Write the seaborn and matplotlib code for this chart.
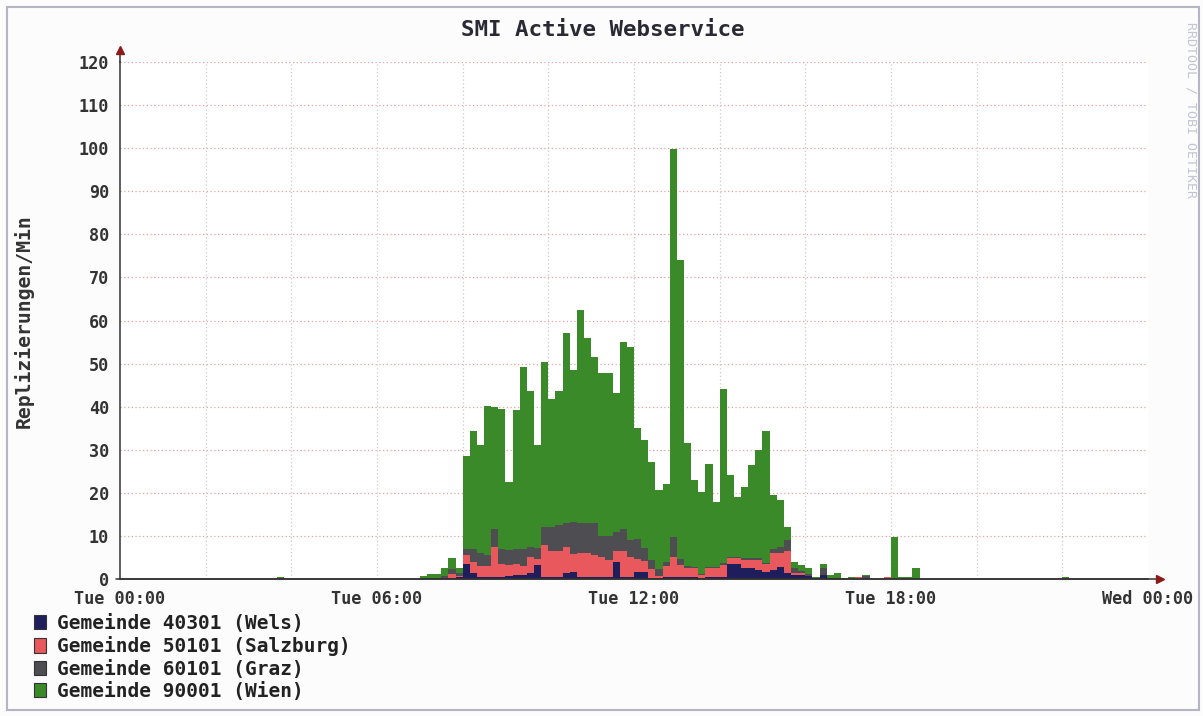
import numpy as np
import pandas as pd
import seaborn as sns
import matplotlib.pyplot as plt
from matplotlib.patches import Patch, Rectangle

# Replication counts per minute, 10-minute samples from Tue 07:00 to Tue 18:50
start_hour = 7.0
step_minutes = 10

wels = [0, 0, 0, 0, 0.3, 0.5,
        3.5, 1.5, 0.5, 0.5, 0.5, 0.5, 0.8, 1.0, 1.0, 1.5,
        3.2, 0.5, 0.5, 0.5, 1.5, 1.7, 0.5, 0.5, 0.5, 0.5,
        0.5, 4.0, 0.5, 0.5, 1.7, 1.7, 0.3, 0.3, 0.5, 0.5,
        0.5, 0.5, 0.5, 0.3, 0.5, 0.5, 0.5, 3.4, 3.4, 2.5,
        2.5, 2.0, 1.7, 2.0, 2.9, 1.5, 1.0, 1.0, 0.8, 0.3,
        1.0, 0.3, 0.2, 0, 0, 0, 0.3, 0, 0, 0,
        0, 0, 0, 0, 0, 0]

salzburg = [0, 0, 0, 0.3, 0.8, 0.2,
            2.0, 2.5, 2.5, 2.5, 7.0, 3.0, 2.5, 2.5, 2.0, 3.5,
            1.5, 7.5, 6.0, 6.0, 6.0, 4.0, 5.5, 5.5, 5.0, 4.5,
            4.0, 2.5, 6.0, 4.5, 3.0, 2.5, 2.0, 0.5, 2.5, 4.7,
            2.7, 2.0, 2.0, 0.7, 2.0, 2.0, 2.7, 1.4, 1.4, 2.0,
            2.0, 2.5, 1.7, 4.0, 3.1, 5.0, 0.5, 0.3, 0, 0,
            0, 0, 0, 0, 0.3, 0.5, 0, 0, 0, 0.5,
            0, 0, 0, 0, 0, 0]

graz = [0, 0, 0, 0.5, 1.2, 0.6,
        1.5, 3.0, 3.0, 2.5, 4.0, 3.5, 3.5, 3.5, 4.0, 2.5,
        2.5, 4.0, 5.5, 6.0, 5.5, 7.5, 7.0, 7.0, 7.5, 5.0,
        5.5, 4.5, 5.0, 4.0, 4.5, 3.0, 2.0, 1.5, 1.0, 4.6,
        1.5, 0.5, 0.3, 0.2, 0.3, 0.3, 0.5, 0.3, 0.3, 0.3,
        0.3, 0.3, 0.3, 1.0, 1.5, 2.5, 1.0, 0.5, 0.4, 0,
        1.5, 0, 0, 0, 0, 0, 0.5, 0, 0, 0,
        0, 0, 0, 0, 0, 0]

wien = [0.6, 1.1, 1.2, 1.7, 2.5, 1.3,
        21.6, 27.4, 25.2, 34.6, 28.5, 32.5, 15.6, 32.2, 42.1, 36.2,
        24.0, 38.4, 29.8, 31.2, 44.1, 35.3, 49.4, 43.0, 38.6, 37.9,
        37.7, 32.1, 43.4, 44.9, 25.9, 25.1, 22.9, 18.3, 18.0, 89.9,
        69.3, 28.5, 20.2, 19.1, 24.0, 15.1, 40.3, 19.0, 14.0, 16.5,
        21.7, 25.1, 30.6, 12.6, 10.8, 3.1, 1.5, 1.4, 1.3, 0.2,
        1.0, 0.7, 1.3, 0.3, 0.2, 0, 0.2, 0, 0, 0,
        9.8, 0.4, 0.4, 2.6, 0, 0]

# isolated samples outside the busy window (Wien only)
extra_hours = [3 + 40 / 60, 22.0]
extra_wien = [0.4, 0.4]

series_labels = ["Gemeinde 40301 (Wels)", "Gemeinde 50101 (Salzburg)",
                 "Gemeinde 60101 (Graz)", "Gemeinde 90001 (Wien)"]
series_colors = ["#1E1E5C", "#E8585C", "#4D4D52", "#3A8A2A"]
x_tick_hours = [0, 6, 12, 18, 24]
x_tick_labels = ["Tue 00:00", "Tue 06:00", "Tue 12:00", "Tue 18:00", "Wed 00:00"]
y_ticks = list(range(0, 121, 10))

# long-form table: one row per series and 10-minute bin (bin centre in hours)
rows = []
step_h = step_minutes / 60
for label, values in zip(series_labels, [wels, salzburg, graz, wien]):
    for i, v in enumerate(values):
        rows.append((start_hour + (i + 0.5) * step_h, label, v))
for h, v in zip(extra_hours, extra_wien):
    rows.append((h + 0.5 * step_h, series_labels[3], v))
df = pd.DataFrame(rows, columns=["hour", "series", "value"])

sns.set_theme(style="white")
mono = "DejaVu Sans Mono"
plt.rcParams["font.family"] = [mono, "DejaVu Sans"]

W, H = 1203, 716
fig = plt.figure(figsize=(W / 100, H / 100), dpi=100, facecolor="#FCFCFC")
ax = fig.add_axes([120 / W, 1 - 579 / H, (1148 - 120) / W, (579 - 62) / H])
ax.set_facecolor("#FFFFFF")

palette = dict(zip(series_labels, series_colors))
# seaborn stacks the last hue level at the bottom
hue_order = series_labels[::-1]
edges = [float(e) for e in np.linspace(0, 24, 24 * 6 + 1)]
sns.histplot(data=df, x="hour", weights="value", hue="series",
             hue_order=hue_order, palette=palette, multiple="stack",
             bins=edges, element="step", fill=True, linewidth=0, alpha=1,
             legend=False, ax=ax, zorder=2)

ax.set_xlim(0, 24)
ax.set_ylim(0, 120)
ax.set_xlabel("")
ax.set_ylabel("")
ax.set_xticks(x_tick_hours)
ax.set_xticklabels(x_tick_labels, fontweight="bold")
ax.set_yticks(y_ticks)
ax.set_yticklabels([str(t) for t in y_ticks], fontweight="bold")
ax.tick_params(axis="both", labelsize=12.2, colors="#333333", length=3,
               width=1, direction="out")
ax.tick_params(axis="x", pad=5)
ax.tick_params(axis="y", pad=5)

# dotted grid: red horizontal every 10, grey vertical every 2 hours
for y in y_ticks[1:]:
    ax.axhline(y, color="#E7A3A3", lw=0.9, ls=(0, (1, 2)), zorder=1)
for h in range(2, 24, 2):
    ax.axvline(h, color="#D0C6D0", lw=0.9, ls=(0, (1, 2)), zorder=1)

for side in ("top", "right"):
    ax.spines[side].set_visible(False)
for side in ("left", "bottom"):
    ax.spines[side].set_color("#333333")
    ax.spines[side].set_linewidth(1.1)
    ax.spines[side].set_zorder(3)

# axis arrows
ax.plot([0, 0], [1, 1.022], color="#333333", lw=1.1,
        transform=ax.transAxes, clip_on=False, zorder=3)
ax.plot([0], [1.024], marker="^", ms=6, color="#8B1A1A",
        transform=ax.transAxes, clip_on=False, zorder=4)
ax.plot([-0.004, 1.011], [0, 0], color="#333333", lw=1.1,
        transform=ax.transAxes, clip_on=False, zorder=3)
ax.plot([1.012], [0], marker=">", ms=6, color="#8B1A1A",
        transform=ax.transAxes, clip_on=False, zorder=4)

fig.text(603 / W, 1 - 30 / H, "SMI Active Webservice", ha="center",
         va="center", fontsize=16.2, fontweight="bold", color="#2A2A35",
         family=mono)
fig.text(24 / W, 1 - 321 / H, "Replizierungen/Min", rotation=90,
         ha="center", va="center", fontsize=14.2, fontweight="bold",
         color="#333333", family=mono)
fig.text(1191 / W, 1 - 110 / H, "RRDTOOL / TOBI OETIKER", rotation=270,
         ha="center", va="center", fontsize=9.6, color="#C4C4D4", family=mono)

handles = [Patch(facecolor=c, edgecolor="#333333", lw=0.8) for c in series_colors]
fig.legend(handles, series_labels, loc="upper left",
           bbox_to_anchor=(34 / W, 1 - 614 / H), frameon=False,
           prop={"family": mono, "size": 14, "weight": "bold"},
           handlelength=0.6, handleheight=0.75, handletextpad=0.6,
           labelspacing=0.17, borderpad=0, borderaxespad=0,
           labelcolor="#222222")

fig.add_artist(Rectangle((7 / W, 6 / H), 1 - 11 / W, 1 - 13 / H,
                         transform=fig.transFigure, fill=False,
                         edgecolor="#B4B4C4", lw=1.5))

fig.savefig("out.png", dpi=100, facecolor=fig.get_facecolor())
